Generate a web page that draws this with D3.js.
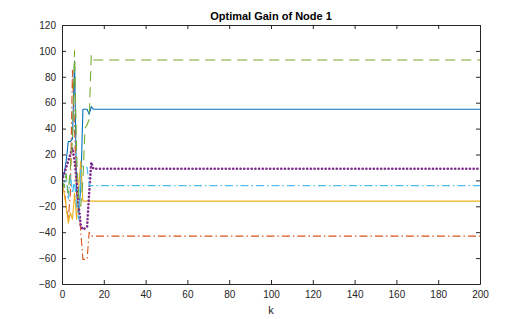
<!DOCTYPE html>
<html>
<head>
<meta charset="utf-8">
<script src="https://cdn.jsdelivr.net/npm/d3@7"></script>
<style>
  body { margin: 0; background: #fff; }
  svg { font-family: "Liberation Sans", Arial, sans-serif; }
</style>
</head>
<body>
<div id="app"></div>
<script>
// time steps: transient k = 0..16, then the final step
const steps = [0, 1, 2, 3, 4, 5, 6, 7, 8, 9, 10, 11, 12, 13, 14, 15, 16, 200];

const blueGain   = [0, 5, 15, 30, 30, 32, 92, -10, -25, -5, 55, 55, 55, 51, 57, 55, 55, 55];
const redGain    = [0, -5, -20, -30, -10, 85, 40, -10, -20, -40, -61, -61, -61, -40, -43, -43, -43, -43];
const yellowGain = [0, -10, -20, -33, -25, -30, -10, -30, -5, 15, -16, -16, -16, -16, -16, -16, -16, -16];
const purpleGain = [0, 5, 10, 15, 20, 25, 15, 0, -20, -35, -38, -37, -36, -10, 14, 9, 9, 9];
const cyanGain   = [0, -5, 5, -15, 5, -10, 0, -20, -30, 10, 11, 11, 10, -4, -4, -4, -4, -4];
const greenGain  = [0, -5, 5, -10, 10, 30, 100, 20, -15, -20, 0, 40, 43, 47, 97, 93, 93, 93];

const series = [
  { values: blueGain,   color: '#0072BD', dash: null,          width: 1.1 },
  { values: redGain,    color: '#D95319', dash: '8,3,1.5,3',   width: 1.1 },
  { values: yellowGain, color: '#EDB120', dash: null,          width: 1.1 },
  { values: purpleGain, color: '#7E2F8E', dash: '0.1,3.6',     width: 2.6, cap: 'round' },
  { values: cyanGain,   color: '#4DBEEE', dash: '8,3,1.5,3',   width: 1.3 },
  { values: greenGain,  color: '#77AC30', dash: '10,6',        width: 1.1 }
];

const xTicks = [0, 20, 40, 60, 80, 100, 120, 140, 160, 180, 200];
const yTicks = [-80, -60, -40, -20, 0, 20, 40, 60, 80, 100, 120];

const W = 519, H = 319;
const m = { left: 62, right: 39, top: 25, bottom: 35 };

const svg = d3.select('#app').append('svg')
  .attr('width', W)
  .attr('height', H);

const x = d3.scaleLinear().domain([0, 200]).range([m.left, W - m.right]);
const y = d3.scaleLinear().domain([-80, 120]).range([H - m.bottom, m.top]);

const plot = svg.append('g');

plot.append('clipPath').attr('id', 'clip')
  .append('rect')
  .attr('x', m.left).attr('y', m.top)
  .attr('width', W - m.left - m.right)
  .attr('height', H - m.top - m.bottom);

const line = d3.line()
  .x((d, i) => x(steps[i]))
  .y(d => y(d));

plot.append('g').attr('clip-path', 'url(#clip)')
  .selectAll('path')
  .data(series)
  .join('path')
  .attr('fill', 'none')
  .attr('stroke', d => d.color)
  .attr('stroke-width', d => d.width)
  .attr('stroke-dasharray', d => d.dash)
  .attr('stroke-linecap', d => d.cap || 'butt')
  .attr('stroke-linejoin', 'round')
  .attr('d', d => line(d.values));

//////////AXES//////////
const axisColor = '#262626';

svg.append('g')
  .attr('transform', `translate(0,${H - m.bottom})`)
  .call(d3.axisBottom(x).tickValues(xTicks).tickSizeInner(-4).tickSizeOuter(0).tickPadding(7));

svg.append('g')
  .attr('transform', `translate(${m.left},0)`)
  .call(d3.axisLeft(y).tickValues(yTicks).tickSizeInner(-4).tickSizeOuter(0).tickPadding(6));

svg.append('g')
  .attr('transform', `translate(0,${m.top})`)
  .call(d3.axisTop(x).tickValues(xTicks).tickSizeInner(-4).tickSizeOuter(0).tickFormat(''));

svg.append('g')
  .attr('transform', `translate(${W - m.right},0)`)
  .call(d3.axisRight(y).tickValues(yTicks).tickSizeInner(-4).tickSizeOuter(0).tickFormat(''));

svg.selectAll('.domain, .tick line')
  .attr('stroke', axisColor)
  .attr('stroke-width', 1);

svg.selectAll('.tick text')
  .attr('fill', axisColor)
  .style('font-size', '10px')
  .style('font-family', '"Liberation Sans", Arial, sans-serif');

//////////TITLE AND LABEL//////////
svg.append('text')
  .attr('x', (m.left + W - m.right) / 2)
  .attr('y', 20)
  .attr('text-anchor', 'middle')
  .attr('fill', '#000')
  .style('font-size', '11px')
  .style('font-weight', 'bold')
  .text('Optimal Gain of Node 1');

svg.append('text')
  .attr('x', (m.left + W - m.right) / 2)
  .attr('y', 314)
  .attr('text-anchor', 'middle')
  .attr('fill', axisColor)
  .style('font-size', '11px')
  .text('k');
</script>
</body>
</html>
